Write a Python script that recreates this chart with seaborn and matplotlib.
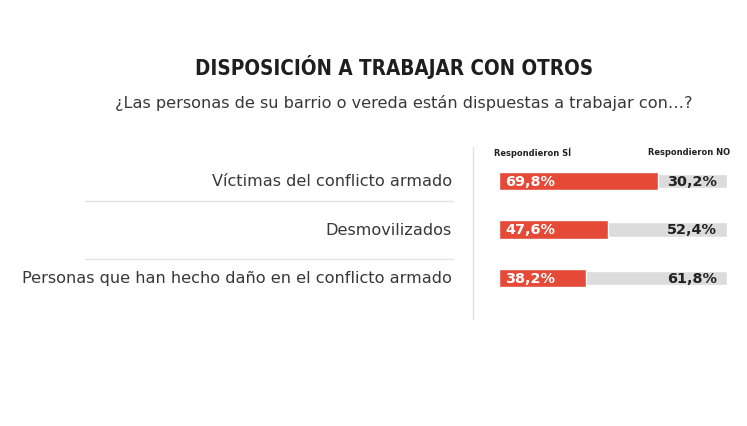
import matplotlib
matplotlib.use('Agg')
import matplotlib.pyplot as plt
import matplotlib.transforms as mtransforms
from matplotlib.lines import Line2D
import seaborn as sns
import pandas as pd

# ── datos ────────────────────────────────────────────────────────────────────
categorias = ['Víctimas del conflicto armado',
              'Desmovilizados',
              'Personas que han hecho daño en el conflicto armado']
si_pct = [69.8, 47.6, 38.2]
no_pct = [30.2, 52.4, 61.8]

ROJO = '#E44A37'; GRIS_BAR = '#DCDCDC'; TEXTO = '#383838'; LINEA = '#E3E3E3'

df = pd.DataFrame({'cat': categorias, 'si': si_pct, 'no': no_pct})
df['total'] = df['si'] + df['no']

sns.set_theme(style='white')
plt.rcParams['font.family'] = ['DejaVu Sans']

W, H = 747, 427
fig = plt.figure(figsize=(W/100, H/100), dpi=100)
fig.patch.set_facecolor('white')

def fx(px): return px / W
def fy(py): return 1 - py / H

# área de barras: x 499..727 px, filas centradas en 182 / 230.5 / 279 px
paso = 48.5
y_top = 182 - paso/2; y_bot = 279 + paso/2
ax = fig.add_axes([fx(499), fy(y_bot), fx(727) - fx(499), (y_bot - y_top)/H])
sns.barplot(data=df, y='cat', x='total', orient='h', color=GRIS_BAR,
            width=0.29, saturation=1, ax=ax)
sns.barplot(data=df, y='cat', x='si', orient='h', color=ROJO,
            width=0.39, saturation=1, ax=ax)
ax.set_xlim(0, 100); ax.set_ylim(2.5, -0.5)
ax.axis('off')

for i, (s, n) in enumerate(zip(si_pct, no_pct)):
    ax.text(2.6, i, f'{s:.1f}%'.replace('.', ','), color='white', fontsize=10.4,
            fontweight='bold', va='center', ha='left')
    ax.text(95.5, i, f'{n:.1f}%'.replace('.', ','), color='#222222', fontsize=10.4,
            fontweight='bold', va='center', ha='right')

# etiquetas de categoría (x en figura, y en datos)
trans = mtransforms.blended_transform_factory(fig.transFigure, ax.transData)
for i, c in enumerate(categorias):
    ax.text(fx(452), i, c, transform=trans, ha='right', va='center',
            fontsize=11.6, color=TEXTO, clip_on=False)

# líneas separadoras
for py in (201.5, 260):
    fig.add_artist(Line2D([fx(85), fx(453)], [fy(py), fy(py)], color=LINEA, lw=1))
fig.add_artist(Line2D([fx(472.5), fx(472.5)], [fy(148), fy(320)], color=LINEA, lw=1))

# títulos
fig.text(fx(394), fy(67), 'DISPOSICIÓN A TRABAJAR CON OTROS', ha='center', va='center',
         fontsize=14.8, fontweight='bold', fontstretch='condensed', color='#1E1E1E')
fig.text(fx(404), fy(103), '¿Las personas de su barrio o vereda están dispuestas a trabajar con…?',
         ha='center', va='center', fontsize=11.6, color=TEXTO)

# encabezados de columnas
fig.text(fx(494), fy(153), 'Respondieron SÍ', ha='left', va='center',
         fontsize=6.7, fontweight='bold', fontstretch='condensed', color='#222222')
fig.text(fx(730), fy(153), 'Respondieron NO', ha='right', va='center',
         fontsize=6.7, fontweight='bold', fontstretch='condensed', color='#222222')

fig.savefig('out.png', dpi=100, facecolor='white')
